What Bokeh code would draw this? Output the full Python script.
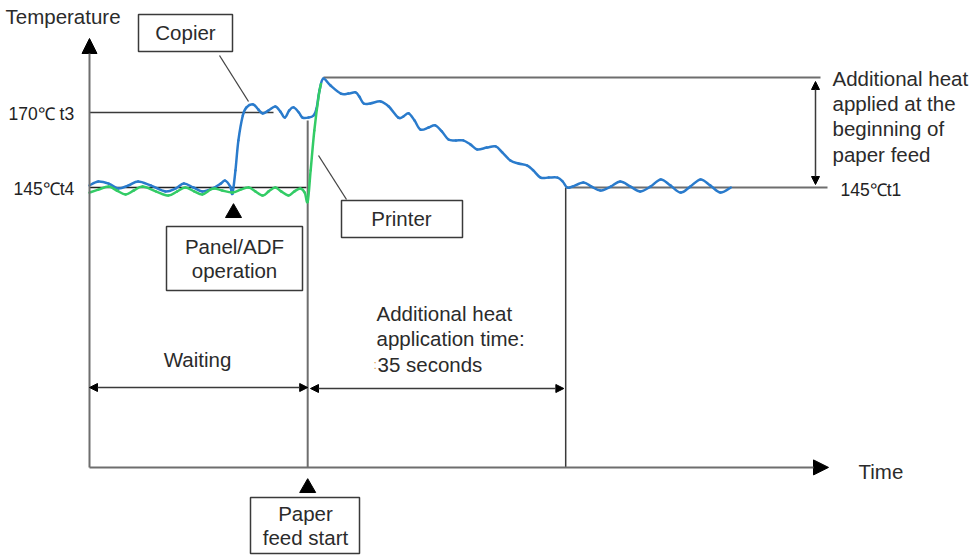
from bokeh.plotting import figure
from bokeh.models import Range1d, Arrow, NormalHead
from bokeh.core.properties import value
from bokeh.embed import file_html
from bokeh.resources import INLINE

# ---------------- data (time in s, temperature in deg C) ----------------
copier_time = [0.0, 1.2, 2.6, 3.9, 5.3, 6.6, 8.3, 10.3, 11.7, 12.8, 14.1, 15.3, 16.7, 17.8,
               18.4, 19.1, 19.4, 19.8, 20.2, 20.8, 21.3, 22.2, 22.9, 23.5, 24.3, 25.2, 25.9,
               26.5, 27.1, 27.7, 28.4, 28.9, 29.7, 30.4, 30.8, 31.2, 31.7, 32.7, 34.1, 35.1,
               36.1, 36.6, 37.2, 38.1, 39.5, 40.6, 41.9, 42.6, 43.3, 44.1, 44.9, 46.0, 46.9,
               47.8, 48.7, 49.7, 50.7, 51.7, 52.6, 53.9, 55.1, 56.0, 57.1, 58.2, 59.4, 60.2,
               61.2, 62.3, 63.5, 64.2, 64.8, 65.5, 67.0, 68.1, 69.3, 70.7, 72.0, 73.4, 74.7,
               76.1, 77.5, 78.8, 80.2, 81.5, 82.9, 84.2, 85.6, 87.0]
copier_temp = [145.7, 147.0, 146.3, 144.7, 145.7, 147.0, 145.7, 143.7, 144.7, 146.3, 145.0,
               143.7, 144.7, 146.3, 147.3, 145.3, 143.0, 150.7, 160.7, 169.0, 171.7, 172.7,
               171.0, 169.7, 170.7, 172.0, 170.3, 168.3, 170.7, 171.7, 170.0, 168.3, 168.3,
               169.0, 171.3, 177.3, 181.3, 179.0, 176.3, 176.3, 176.7, 175.3, 173.0, 173.0,
               173.7, 172.0, 168.3, 168.7, 169.7, 167.3, 164.3, 165.0, 165.7, 163.7, 161.0,
               160.7, 160.7, 159.3, 157.7, 158.3, 158.7, 156.7, 154.0, 153.0, 152.3, 150.7,
               148.3, 148.3, 148.3, 147.0, 145.0, 145.3, 146.7, 145.3, 144.0, 145.3, 147.0,
               145.3, 143.7, 145.3, 147.7, 145.7, 143.3, 145.3, 147.7, 145.7, 143.3, 145.0]
printer_time = [0.0, 1.2, 2.6, 3.7, 4.9, 6.0, 7.2, 9.0, 10.7, 11.9, 13.0, 14.2, 15.3, 16.4,
                17.0, 18.0, 19.4, 20.5, 21.6, 22.5, 23.5, 24.3, 25.2, 26.0, 27.0, 27.8, 28.6,
                29.2, 29.6, 30.0, 30.5, 31.1, 31.4]
printer_temp = [143.3, 144.3, 145.3, 144.0, 142.7, 144.0, 145.3, 143.7, 142.3, 143.7, 145.0,
                143.7, 142.7, 144.3, 144.7, 144.0, 143.3, 144.3, 145.0, 143.7, 142.3, 143.7,
                145.0, 143.7, 142.3, 143.7, 144.7, 143.3, 140.3, 150.7, 164.0, 175.7, 179.5]

T_T4 = 145          # standby level
T_T3 = 170          # copier ready level
T_T1 = 145          # level after additional heat
T_PEAK = 181.7      # additional heat top
FEED_START = 29.6   # paper feed start (s)
HEAT_TIME = 35      # additional heat application time (s)
HEAT_END = FEED_START + HEAT_TIME
AXIS_BASE = 51.7

# ---------------- layout helpers (picture pixel -> data) ----------------
X0_PX, PX_PER_S = 89.0, 7.3714
Y145_PX, PX_PER_C = 187.0, 3.0
W, H = 978, 556


def tx(px):
    return (px - X0_PX) / PX_PER_S


def ty(py):
    return 145 - (py - Y145_PX) / PX_PER_C


FONT = value("Liberation Sans")
TXT = "#2b2b2b"
GRAY = "#6e6e6e"
DARK = "#3a3a3a"
BLUE = "#2a7bcc"
GREEN = "#33cc66"

p = figure(width=W, height=H, x_range=Range1d(tx(0), tx(W)),
           y_range=Range1d(ty(H), ty(0)), output_backend="svg",
           toolbar_location=None, x_axis_type=None, y_axis_type=None,
           min_border=0, outline_line_color=None)
p.grid.visible = False

# axes with arrow heads
p.add_layout(Arrow(end=NormalHead(size=15, fill_color="black", line_color="black"),
                   x_start=0, y_start=AXIS_BASE, x_end=0, y_end=ty(38),
                   line_color=GRAY, line_width=2))
p.add_layout(Arrow(end=NormalHead(size=15, fill_color="black", line_color="black"),
                   x_start=0, y_start=AXIS_BASE, x_end=tx(828), y_end=AXIS_BASE,
                   line_color=GRAY, line_width=2))

# reference lines
p.line([0, tx(273)], [T_T3, T_T3], line_color=DARK, line_width=1.5)
p.line([0, tx(306)], [T_T4, T_T4], line_color="#222222", line_width=1.5)
p.line([FEED_START, FEED_START], [ty(120), AXIS_BASE], line_color=GRAY, line_width=2)
p.line([HEAT_END, HEAT_END], [T_T1, AXIS_BASE], line_color=DARK, line_width=1.5)
p.line([tx(323), tx(820)], [T_PEAK, T_PEAK], line_color=GRAY, line_width=2)
p.line([HEAT_END, tx(827)], [T_T1, T_T1], line_color=GRAY, line_width=2)


# double arrows
def dbl(x0, y0, x1, y1):
    p.add_layout(Arrow(start=NormalHead(size=8, fill_color="black", line_color="black"),
                       end=NormalHead(size=8, fill_color="black", line_color="black"),
                       x_start=x0, y_start=y0, x_end=x1, y_end=y1,
                       line_color=DARK, line_width=1.5))


dbl(0, ty(387), FEED_START, ty(387))
dbl(tx(310), ty(388), HEAT_END - 0.25, ty(388))
dbl(tx(815), ty(81), tx(815), ty(184))

# leader lines
p.line([tx(219), tx(248)], [ty(55), ty(101)], line_color="#444444", line_width=1.3)
p.line([tx(318), tx(346)], [ty(155), ty(199)], line_color="#444444", line_width=1.3)


# curves: smooth (Catmull-Rom) bezier through the read points
def smooth(xs, ys, color):
    n = len(xs)
    d = dict(x0=[], y0=[], x1=[], y1=[], cx0=[], cy0=[], cx1=[], cy1=[])
    for i in range(n - 1):
        a = max(i - 1, 0)
        b = min(i + 2, n - 1)
        d["x0"].append(xs[i]); d["y0"].append(ys[i])
        d["x1"].append(xs[i + 1]); d["y1"].append(ys[i + 1])
        d["cx0"].append(xs[i] + (xs[i + 1] - xs[a]) / 6)
        d["cy0"].append(ys[i] + (ys[i + 1] - ys[a]) / 6)
        d["cx1"].append(xs[i + 1] - (xs[b] - xs[i]) / 6)
        d["cy1"].append(ys[i + 1] - (ys[b] - ys[i]) / 6)
    p.bezier(source=d, x0="x0", y0="y0", x1="x1", y1="y1", cx0="cx0", cy0="cy0",
             cx1="cx1", cy1="cy1", line_color=color, line_width=2.5, line_cap="round")


smooth(copier_time, copier_temp, BLUE)
smooth(printer_time, printer_temp, GREEN)


# boxes
def box(l, r, t, b):
    p.quad(left=[tx(l)], right=[tx(r)], top=[ty(t)], bottom=[ty(b)],
           fill_color="white", line_color=DARK, line_width=1.5)


box(138, 232, 14, 51)
box(341, 462, 200, 237)
box(166, 302, 226, 290)
box(250, 359, 497, 553)

# triangles
p.scatter([tx(233), FEED_START], [ty(212.4), ty(487.4)], marker="triangle",
          size=16, fill_color="black", line_color="black")


# texts
def txt(s, x, y, size="20.5px", align="left", color=TXT):
    p.text([tx(x)], [ty(y)], text=[s], text_font=FONT, text_font_size=size,
           text_align=align, text_baseline="middle", text_color=color)


txt("Temperature", 5, 16)
txt("Copier", 185, 32, align="center")
txt("Printer", 401, 218, align="center")
txt("Panel/ADF", 234, 246, align="center")
txt("operation", 234, 270, align="center")
txt("Waiting", 197, 359, align="center")
txt("Additional heat", 376, 313)
txt("application time:", 376, 338)
txt(":", 373, 364, size="12px", color="#e0a050")
txt("35 seconds", 377, 364)
txt("Paper", 305, 513, align="center")
txt("feed start", 305, 537, align="center")
txt("Time", 858, 471)
txt("Additional heat", 832, 78)
txt("applied at the", 832, 103)
txt("beginning of", 832, 128)
txt("paper feed", 832, 154)
txt("170\u2103 t3", 8, 113, size="17.5px", color="#222222")
txt("145\u2103t4", 13, 188, size="17.5px", color="#222222")
txt("145\u2103t1", 840, 189, size="17.5px", color="#222222")

open("out.html", "w").write(file_html(p, INLINE))
